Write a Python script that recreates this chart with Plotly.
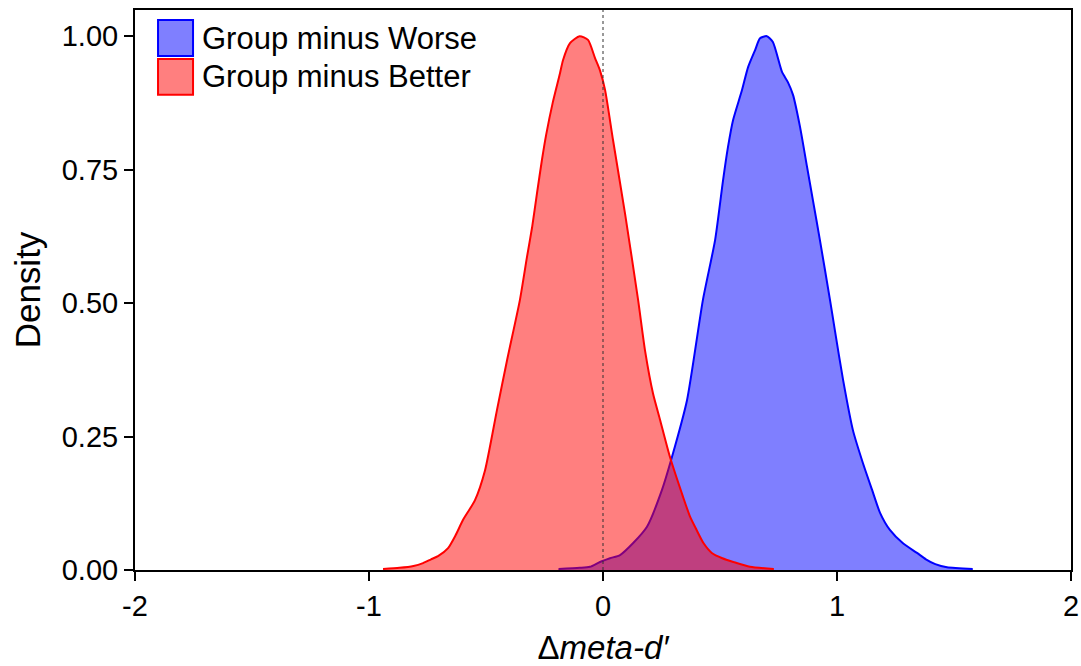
import plotly.graph_objects as go

# ---- data ----
better_x = [-0.94, -0.87, -0.81, -0.769, -0.735, -0.705, -0.662, -0.63, -0.598, -0.547, -0.504,
            -0.453, -0.41, -0.355, -0.325, -0.303, -0.282, -0.261, -0.243, -0.215, -0.184, -0.171,
            -0.141, -0.10, -0.064, -0.034, -0.013, 0.009, 0.043, 0.094, 0.15, 0.18, 0.214, 0.244,
            0.286, 0.342, 0.372, 0.40, 0.43, 0.465, 0.51, 0.557, 0.628, 0.73]
better_y = [0.002, 0.004, 0.0075, 0.013, 0.02, 0.026, 0.041, 0.065, 0.094, 0.131, 0.187,
            0.30, 0.393, 0.506, 0.586, 0.642, 0.706, 0.768, 0.815, 0.875, 0.93, 0.955,
            0.987, 1.0, 0.993, 0.959, 0.936, 0.899, 0.805, 0.668, 0.506, 0.41, 0.33, 0.281,
            0.212, 0.137, 0.10, 0.075, 0.05, 0.032, 0.022, 0.015, 0.006, 0.002]

worse_x = [-0.19, -0.10, -0.056, -0.013, 0.03, 0.073, 0.128, 0.188, 0.252, 0.295, 0.359,
           0.427, 0.479, 0.513, 0.534, 0.556, 0.594, 0.62, 0.65, 0.671, 0.70, 0.726, 0.765,
           0.79, 0.812, 0.842, 0.872, 0.897, 0.927, 0.97, 0.991, 1.026, 1.068, 1.111, 1.15,
           1.184, 1.226, 1.282, 1.342, 1.38, 1.42, 1.47, 1.58]
worse_y = [0.002, 0.004, 0.006, 0.015, 0.022, 0.028, 0.05, 0.081, 0.15, 0.212, 0.318,
           0.506, 0.618, 0.73, 0.792, 0.843, 0.899, 0.942, 0.974, 0.996, 1.0, 0.989, 0.933,
           0.914, 0.89, 0.83, 0.755, 0.693, 0.618, 0.506, 0.449, 0.356, 0.262, 0.200, 0.15,
           0.107, 0.075, 0.05, 0.032, 0.02, 0.011, 0.005, 0.002]

series_names = ["Group minus Worse", "Group minus Better"]
x_tickvals = [-2, -1, 0, 1, 2]
x_ticktext = ["-2", "-1", "0", "1", "2"]
y_tickvals = [0, 0.25, 0.5, 0.75, 1.0]
y_ticktext = ["0.00", "0.25", "0.50", "0.75", "1.00"]

FONT = "Liberation Sans, Arial, sans-serif"
blue_line, blue_fill = "#0000FF", "rgba(0,0,255,0.5)"
red_line, red_fill = "#FF0000", "rgba(255,0,0,0.5)"

fig = go.Figure()
fig.add_trace(go.Scatter(x=worse_x, y=worse_y, mode="lines", fill="tozeroy",
                         line=dict(color=blue_line, width=2, shape="spline", smoothing=0.6),
                         fillcolor=blue_fill, name=series_names[0], showlegend=False))
fig.add_trace(go.Scatter(x=better_x, y=better_y, mode="lines", fill="tozeroy",
                         line=dict(color=red_line, width=2, shape="spline", smoothing=0.6),
                         fillcolor=red_fill, name=series_names[1], showlegend=False))

# dotted zero line
fig.add_shape(type="line", xref="x", yref="y domain", x0=0, x1=0, y0=0, y1=1,
              line=dict(color="#333333", width=1, dash="dot"), layer="above")

# manual legend (square swatches)
legend_items = [(series_names[0], blue_line, blue_fill), (series_names[1], red_line, red_fill)]
sw_x0, sw_x1 = 0.0246, 0.062
for i, (name, lc, fc) in enumerate(legend_items):
    top = 0.982 - i * 0.0695
    bot = top - 0.064
    fig.add_shape(type="rect", xref="paper", yref="paper", x0=sw_x0, x1=sw_x1, y0=bot, y1=top,
                  line=dict(color=lc, width=2), fillcolor=fc, layer="above")
    fig.add_annotation(xref="paper", yref="paper", x=0.0695, y=(top + bot) / 2, text=name,
                       showarrow=False, xanchor="left", yanchor="middle",
                       font=dict(family=FONT, size=31, color="black"))

fig.update_layout(
    width=1081, height=666,
    margin=dict(l=135, r=10, t=10, b=96),
    paper_bgcolor="white", plot_bgcolor="white",
    font=dict(family=FONT, color="black"),
    xaxis=dict(range=[-2, 2], tickvals=x_tickvals, ticktext=x_ticktext,
               ticks="outside", ticklen=9, tickwidth=2, tickcolor="black",
               showline=True, linecolor="black", linewidth=2, mirror=True,
               showgrid=False, zeroline=False, automargin=False,
               tickfont=dict(family=FONT, size=29),
               title=dict(text="\u0394<i>meta-d\u2032</i>", font=dict(family=FONT, size=33), standoff=20)),
    yaxis=dict(range=[0, 1.049], tickvals=y_tickvals, ticktext=y_ticktext,
               ticks="outside", ticklen=9, tickwidth=2, tickcolor="black",
               showline=True, linecolor="black", linewidth=2, mirror=True,
               showgrid=False, zeroline=False, automargin=False,
               tickfont=dict(family=FONT, size=29),
               title=dict(text="Density", font=dict(family=FONT, size=35), standoff=10)),
)

fig.write_html("out.html")
